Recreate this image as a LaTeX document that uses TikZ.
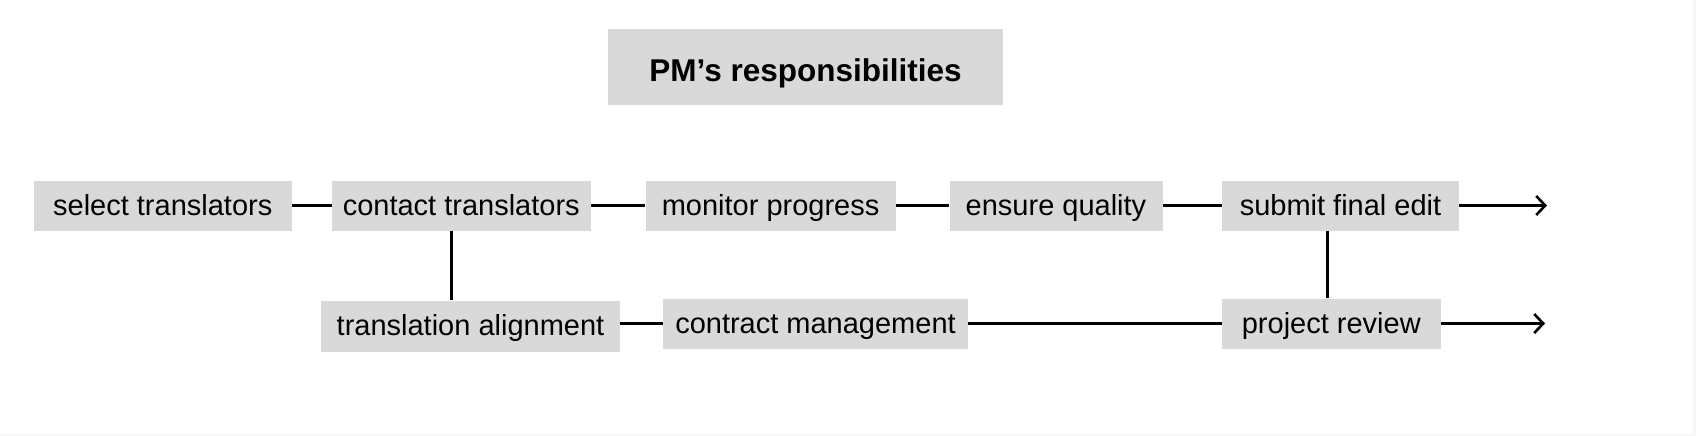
\documentclass[tikz,border=0pt]{standalone}
\usepackage{fontspec}
\setmainfont{Liberation Sans}
\usetikzlibrary{arrows.meta}

\tikzset{
  task/.style={fill={rgb,255:red,217;green,217;blue,217}, inner sep=0pt, minimum height=50pt,
    text height=23pt, text depth=3.6pt, font=\fontsize{29}{34}\selectfont},
  heading/.style={fill={rgb,255:red,217;green,217;blue,217}, inner sep=0pt, minimum width=395pt,
    minimum height=76pt, text height=30pt, text depth=1pt, font=\fontsize{31.5}{36}\selectfont\bfseries},
  link/.style={line width=2.6pt},
  flow/.style={link, -{Straight Barb[length=9pt,width=19pt,line width=2.6pt]}}
}

\begin{document}
\begin{tikzpicture}[x=1pt,y=1pt,yscale=-1,xscale=1]
%frame of the page
\fill[gray!6] (0,0) rectangle (1696,436);
\fill[white] (0,0) rectangle (1693,434);
\useasboundingbox (0,0) rectangle (1696,436);

%title
\node[heading] (title) at (805.5,67) {PM’s responsibilities};

%upper row
\node[task, minimum width=258.5pt] (sel) at (162.75,205.5) {select translators};
\node[task, minimum width=258.5pt] (con) at (461.25,205.5) {contact translators};
\node[task, minimum width=250pt] (mon) at (770.6,205.5) {monitor progress};
\node[task, minimum width=213pt] (ens) at (1056,205.5) {ensure quality};
\node[task, minimum width=237pt] (sub) at (1340.5,205.5) {submit final edit};
\coordinate (end1) at (1547,205.5);

%lower row
\node[task, minimum width=299pt, minimum height=51pt] (ali) at (470.5,326) {translation alignment};
\node[task, minimum width=305pt] (ctr) at (815.5,323.5) {contract management};
\node[task, minimum width=218.7pt] (rev) at (1331.3,323.5) {project review};
\coordinate (end2) at (1545,323.5);

%connectors
\draw[link] (sel) -- (con);
\draw[link] (con) -- (mon);
\draw[link] (mon) -- (ens);
\draw[link] (ens) -- (sub);
\draw[flow] (sub) -- (end1);
\draw[link] ([xshift=-10pt]con.south) -- ([xshift=-10pt]con.south |- ali.north);
\draw[link] (ali.east |- ctr.west) -- (ctr.west);
\draw[link] (ctr) -- (rev);
\draw[flow] (rev) -- (end2);
\draw[link] ([xshift=-4pt]rev.north) -- ([xshift=-4pt]rev.north |- sub.south);
\end{tikzpicture}
\end{document}
